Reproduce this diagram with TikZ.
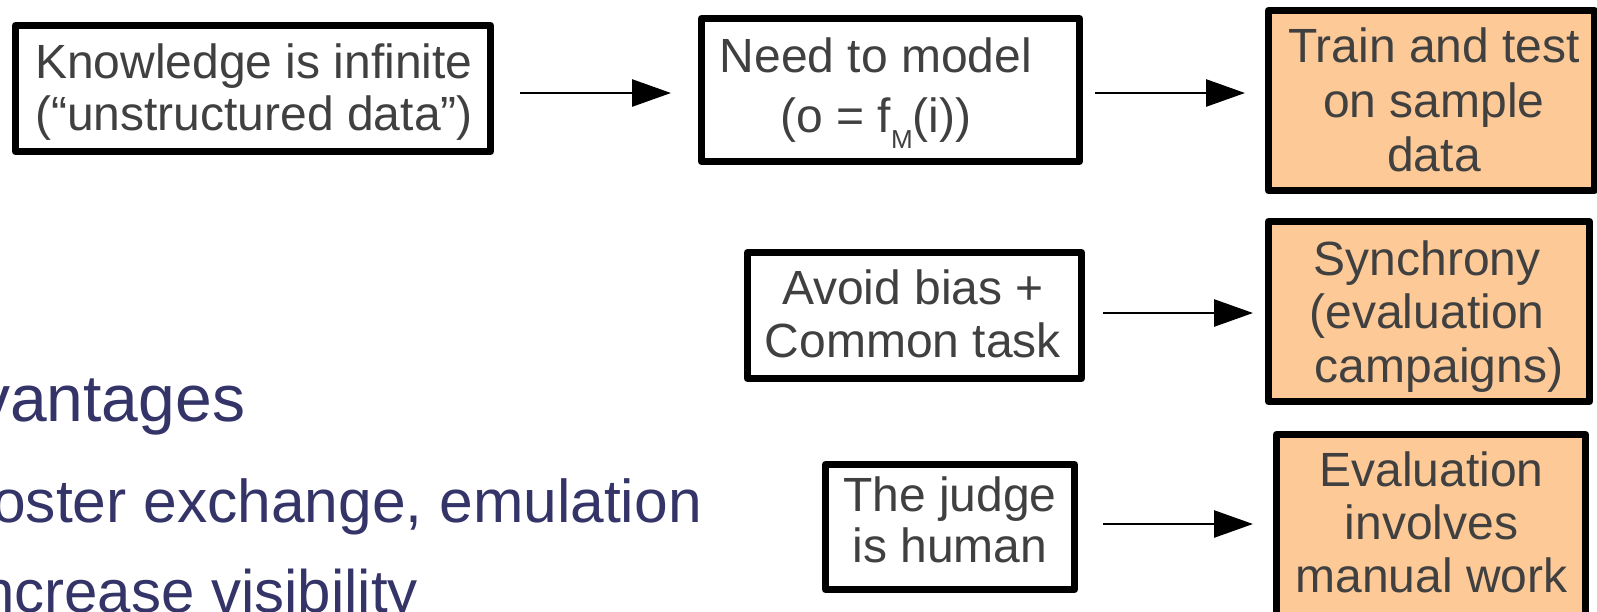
\documentclass[tikz,border=0pt]{standalone}
\usepackage{fontspec}
\setmainfont{Liberation Sans}
\usetikzlibrary{arrows.meta}
\definecolor{boxgray}{RGB}{64,64,64}
\definecolor{slidenavy}{RGB}{52,52,104}
\definecolor{peach}{RGB}{252,201,151}

\begin{document}
\begin{tikzpicture}[x=1pt,y=-1pt,
  box/.style={draw=black, line width=7pt, line join=round, rectangle, inner sep=0pt},
  hot/.style={box, fill=peach},
  boxtext/.style={text=boxgray, align=center, inner sep=0pt, font=\fontsize{48}{#1}\selectfont},
  slidetext/.style={anchor=base west, inner sep=0pt, text=slidenavy, font=\fontsize{#1}{#1}\selectfont},
  arr/.style={-{Triangle[length=39pt,width=27pt]}, line width=2.7pt, draw=black}
]
\fill[white] (0,0) rectangle (1597,611);
\useasboundingbox (0,0) rectangle (1597,611);
\clip (0,0) rectangle (1597,611);

% slide text behind the chart
\node[slidetext=66] (h1) at (-23,421) {vantages};
\node[slidetext=60.5] (h2) at (-8,522) {oster exchange, emulation};
\node[slidetext=60] (h3) at (-19,612) {ncrease visibility};

% boxes
\node[box, minimum width=475pt, minimum height=126pt] (b1) at (253,88.5) {};
\node[box, minimum width=378pt, minimum height=143pt] (b2) at (890.5,90) {};
\node[hot, minimum width=326pt, minimum height=180pt] (b3) at (1431.5,100.5) {};
\node[box, minimum width=334pt, minimum height=126pt] (b4) at (914.5,315.5) {};
\node[hot, minimum width=321pt, minimum height=180pt] (b5) at (1429,311.5) {};
\node[box, minimum width=249pt, minimum height=125pt] (b6) at (950,527) {};
\node[hot, minimum width=309pt, minimum height=202pt] (b7) at (1431,535.5) {};

% box labels
\node[boxtext=52] (t1) at (254,91.75) {Knowledge is infinite\\(“unstructured data”)};
\node[boxtext=60] (t2) at (876,92.75) {Need to model\\(o = f\raisebox{-16pt}{\fontsize{26}{26}\selectfont M}(i))};
\node[boxtext=54.5] (t3) at (1434,100.25) {Train and test\\on sample\\data};
\node[boxtext=53] (t4) at (913,314.25) {Avoid bias +\\Common task};
\node[boxtext=53.5] (t5) at (1427,316.25) {Synchrony\\(evaluation\hspace*{32pt}\\\hspace*{24pt}campaigns)};
\node[boxtext=51] (t6) at (950,520.25) {The judge\\is human};
\node[boxtext=53] (t7) at (1431.5,522.75) {Evaluation\\involves\\manual work};

% connectors
\draw[arr, shorten <=26pt, shorten >=27pt] ([yshift=-4.5pt]b1.east) -- ([yshift=-4.5pt]b1.east -| b2.west);
\draw[arr, shorten <=12pt, shorten >=20pt] ([yshift=-3pt]b2.east) -- ([yshift=-3pt]b2.east -| b3.west);
\draw[arr, shorten <=18pt, shorten >=12pt] ([yshift=2.5pt]b4.east) -- ([yshift=2.5pt]b4.east -| b5.west);
\draw[arr, shorten <=25pt, shorten >=20pt] ([yshift=3pt]b6.east) -- ([yshift=3pt]b6.east -| b7.west);
\end{tikzpicture}
\end{document}
